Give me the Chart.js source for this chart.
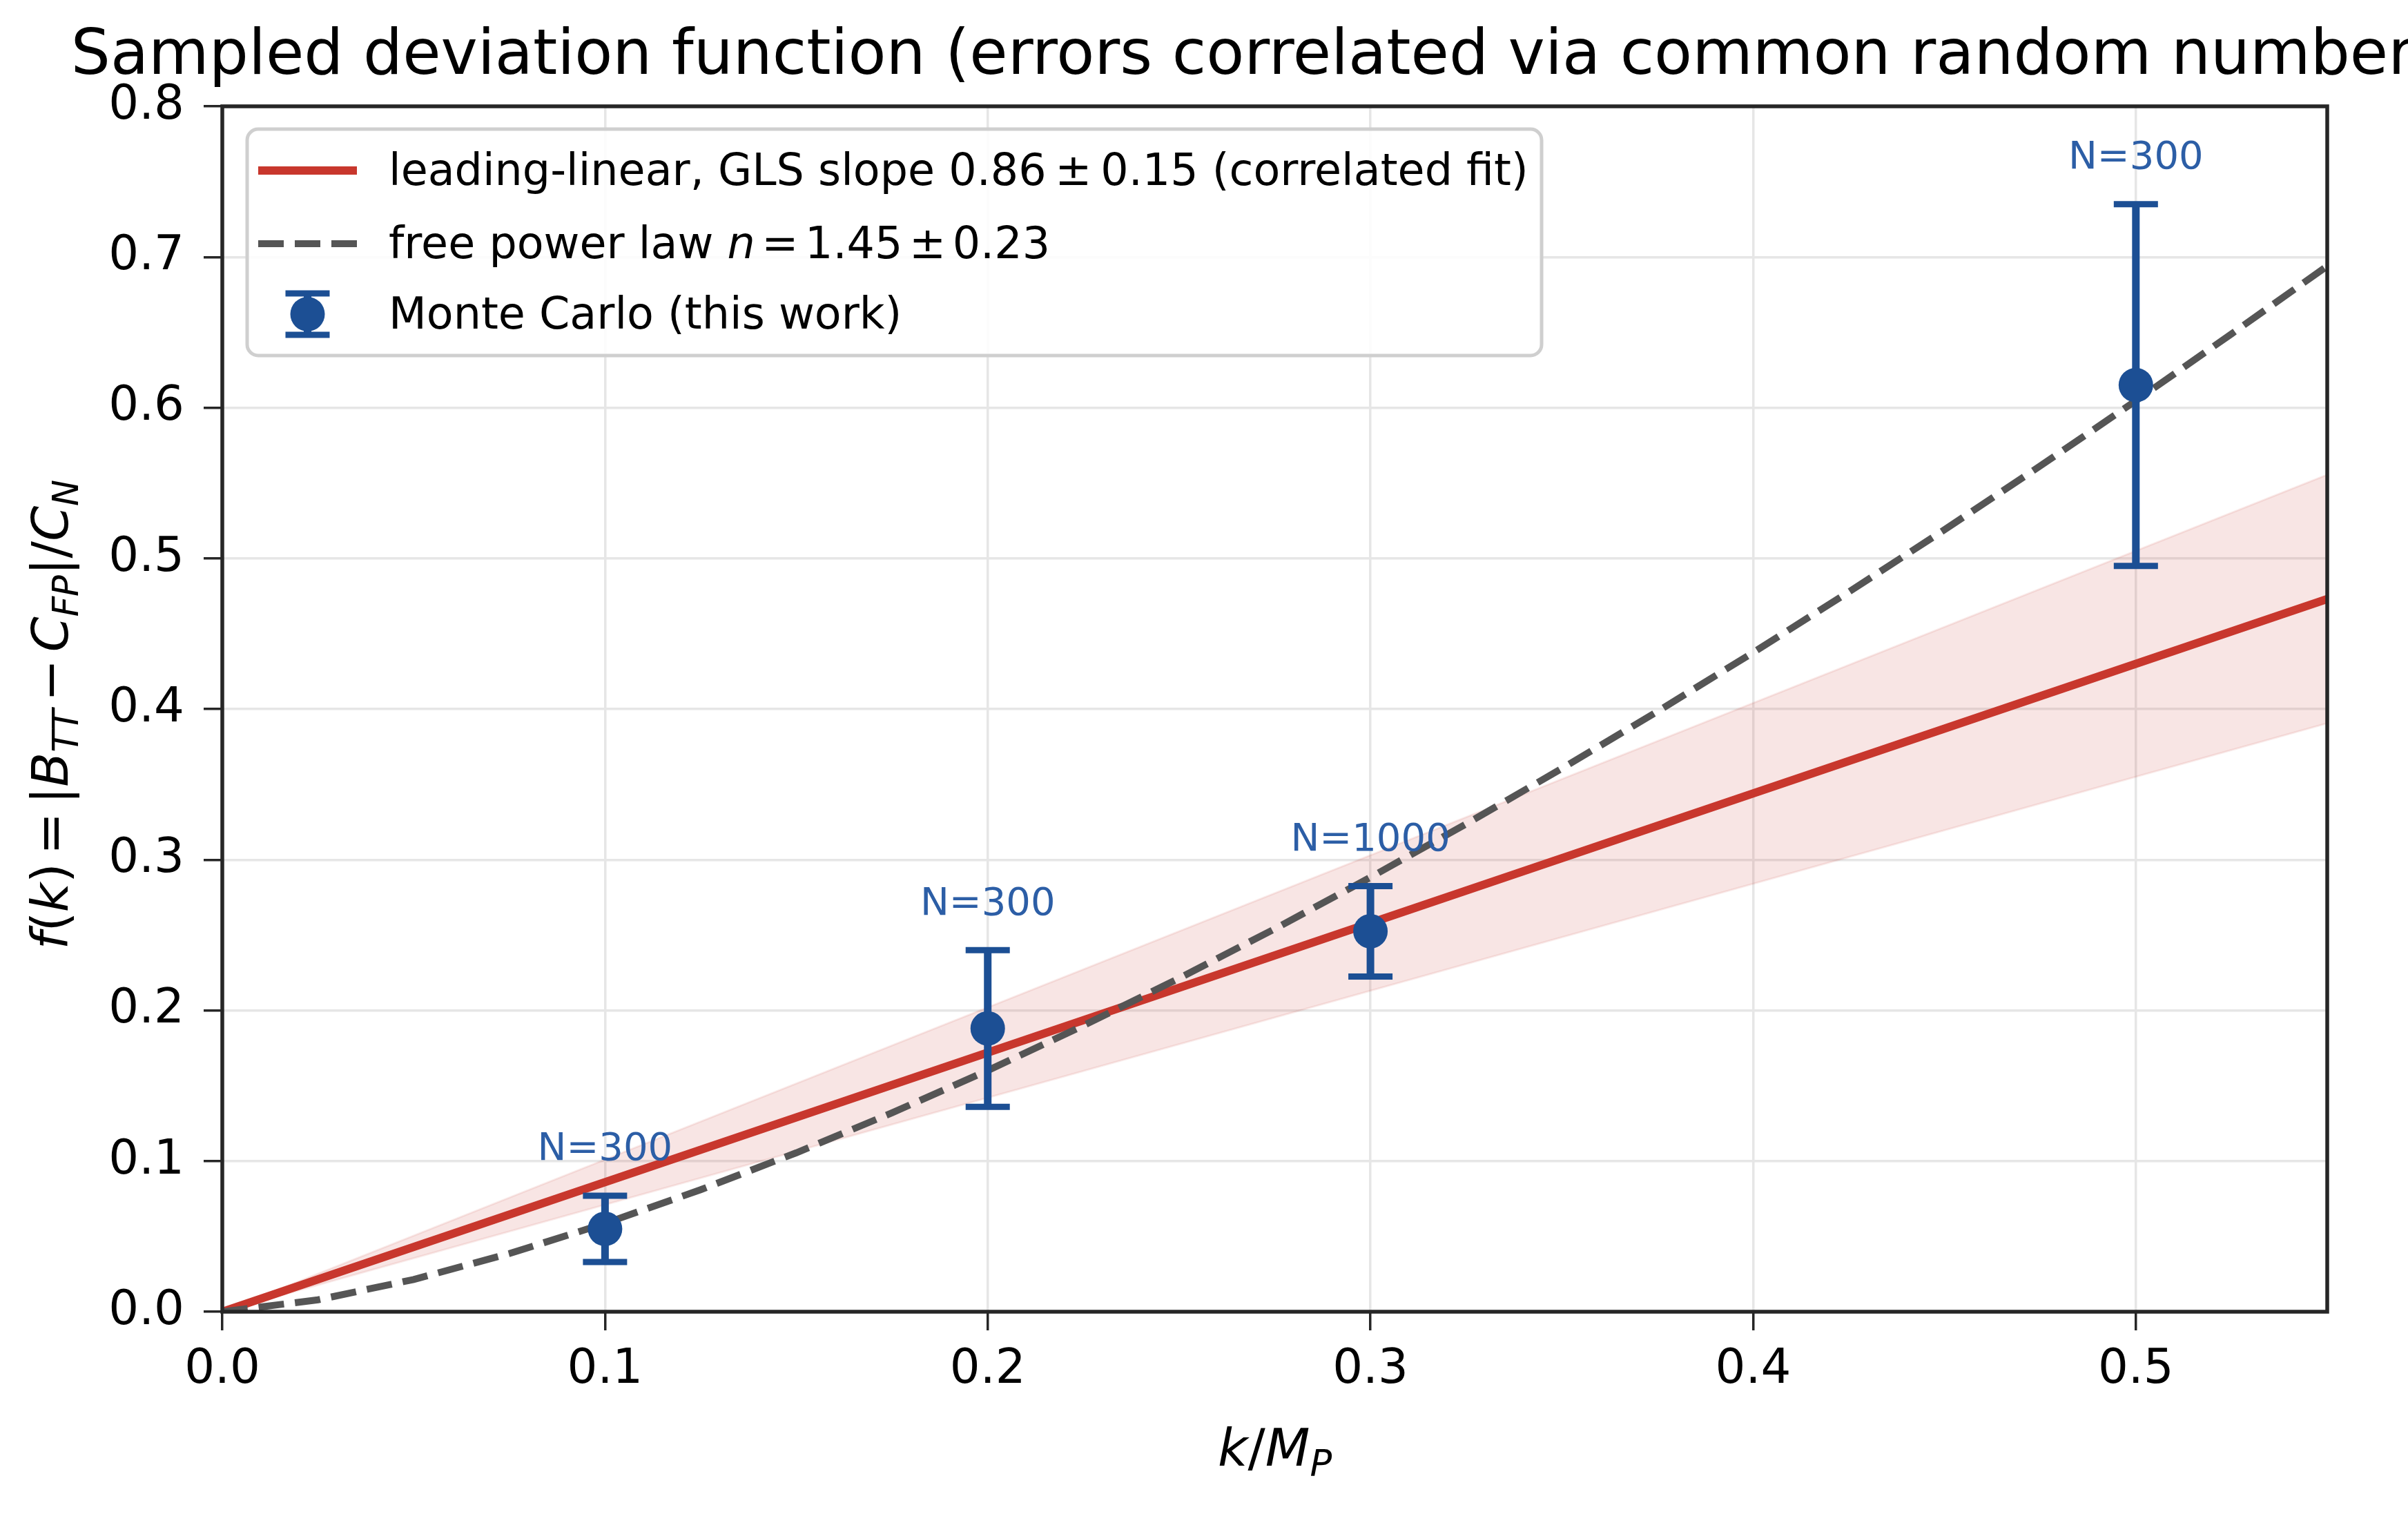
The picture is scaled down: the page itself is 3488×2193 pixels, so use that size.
<!DOCTYPE html>
<html><head><meta charset="utf-8">
<script src="https://cdn.jsdelivr.net/npm/chart.js@4/dist/chart.umd.min.js"></script>
<style>html,body{margin:0;padding:0;background:#fff}canvas{display:block}</style>
</head><body>
<div style="width:3488px;height:2193px"><canvas id="c" width="3488" height="2193"></canvas></div>
<script>
// ---------------- data ----------------
const titleText = 'Sampled deviation function (errors correlated via common random numbers)';
const xTicks = [0.0, 0.1, 0.2, 0.3, 0.4, 0.5];
const yTicks = [0.0, 0.1, 0.2, 0.3, 0.4, 0.5, 0.6, 0.7, 0.8];
const xRange = [0.0, 0.55];
const yRange = [0.0, 0.8];

// Monte Carlo points
const mcK = [0.1, 0.2, 0.3, 0.5];
const mcF = [0.055, 0.188, 0.2525, 0.615];
const mcErr = [0.022, 0.052, 0.030, 0.120];
const mcLabels = ['N=300', 'N=300', 'N=1000', 'N=300'];

// leading-linear GLS fit and its band
const linK = [0.0, 0.55];
const linF = [0.0, 0.473];
const bandUpperF = [0.0, 0.5555];
const bandLowerF = [0.0, 0.3905];

// free power law curve
const powK = [0.0, 0.025, 0.05, 0.075, 0.1, 0.125, 0.15, 0.175, 0.2, 0.225, 0.25, 0.275, 0.3,
              0.325, 0.35, 0.375, 0.4, 0.425, 0.45, 0.475, 0.5, 0.525, 0.55];
const powF = [0.0, 0.0079, 0.0214, 0.0386, 0.0586, 0.0810, 0.1055, 0.1320, 0.1601, 0.1899, 0.2213, 0.2541, 0.2883,
              0.3237, 0.3605, 0.3984, 0.4375, 0.4777, 0.5190, 0.5613, 0.6046, 0.6490, 0.6940];

const legendLabels = [
  [{t: 'leading-linear, GLS slope 0.86'}, {sp: 0.2}, {t: '±'}, {sp: 0.2}, {t: '0.15 (correlated fit)'}],
  [{t: 'free power law '}, {t: 'n', it: true}, {sp: 0.15}, {t: '='}, {sp: 0.15}, {t: '1.45'}, {sp: 0.15}, {t: '±'}, {sp: 0.15}, {t: '0.23'}],
  [{t: 'Monte Carlo (this work)'}]
];
const xLabelSegs = [{t: 'k', it: true}, {t: '/'}, {t: 'M', it: true}, {t: 'P', it: true, sub: true}];
const yLabelSegs = [{t: 'f', it: true}, {t: '('}, {t: 'k', it: true}, {t: ')'}, {sp: 0.17}, {t: '='}, {sp: 0.17}, {t: '|'}, {t: 'B', it: true},
  {t: 'TT', it: true, sub: true}, {sp: 0.15}, {t: '−'}, {sp: 0.15}, {t: 'C', it: true}, {t: 'FP', it: true, sub: true},
  {t: '|/'}, {t: 'C', it: true}, {t: 'N', it: true, sub: true}];

// ---------------- styles ----------------
const FONT = '"DejaVu Sans", "Liberation Sans", sans-serif';
const BLUE = '#1c4f94';
const BLUE_TXT = '#2c5ea6';
const RED = '#c8372d';
const BAND = 'rgba(200,55,45,0.13)';
const GRAY = '#555555';

const pts = (xs, ys) => xs.map((v, i) => ({x: v, y: ys[i]}));

function segFont(s, size) {
  const sz = s.sub ? size * 0.7 : size;
  return (s.it ? 'italic ' : '') + sz + 'px ' + FONT;
}
function segW(ctx, s, size) {
  if (s.sp !== undefined) return s.sp * size;
  ctx.font = segFont(s, size);
  return ctx.measureText(s.t).width;
}
function drawRich(ctx, segs, x, y, size, align) {
  let w = 0;
  for (const s of segs) w += segW(ctx, s, size);
  let cx = align === 'center' ? x - w / 2 : x;
  ctx.textBaseline = 'alphabetic';
  ctx.textAlign = 'left';
  for (const s of segs) {
    const sw = segW(ctx, s, size);
    if (s.t !== undefined) {
      ctx.font = segFont(s, size);
      ctx.fillText(s.t, cx, y + (s.sub ? size * 0.2 : 0));
    }
    cx += sw;
  }
}

const decorations = {
  id: 'decorations',
  beforeDatasetDraw(chart, args) {
    if (args.index !== 0) return;
    const {ctx, scales: {x, y}} = chart;
    ctx.save();
    ctx.strokeStyle = BLUE;
    ctx.lineCap = 'butt';
    for (let i = 0; i < mcK.length; i++) {
      const px = x.getPixelForValue(mcK[i]);
      const pt = y.getPixelForValue(mcF[i] + mcErr[i]);
      const pb = y.getPixelForValue(mcF[i] - mcErr[i]);
      ctx.lineWidth = 11;
      ctx.beginPath(); ctx.moveTo(px, pt); ctx.lineTo(px, pb); ctx.stroke();
      ctx.lineWidth = 9;
      ctx.beginPath();
      ctx.moveTo(px - 32, pt); ctx.lineTo(px + 32, pt);
      ctx.moveTo(px - 32, pb); ctx.lineTo(px + 32, pb);
      ctx.stroke();
    }
    ctx.restore();
  },
  afterDatasetsDraw(chart) {
    const {ctx, scales: {x, y}, chartArea: a} = chart;
    ctx.save();
    // N labels
    ctx.fillStyle = BLUE_TXT;
    ctx.font = '56px ' + FONT;
    ctx.textAlign = 'center';
    ctx.textBaseline = 'middle';
    for (let i = 0; i < mcK.length; i++) {
      const px = x.getPixelForValue(mcK[i]);
      const pt = y.getPixelForValue(mcF[i] + mcErr[i]);
      ctx.fillText(mcLabels[i], px, pt - 66);
    }
    // frame
    ctx.strokeStyle = '#262626';
    ctx.lineWidth = 5.5;
    ctx.strokeRect(a.left, a.top, a.right - a.left, a.bottom - a.top);
    ctx.restore();
  },
  afterDraw(chart) {
    const {ctx, chartArea: a} = chart;
    ctx.save();
    // legend
    const lx = a.left + 36, ly = a.top + 33, lw = 1875, lh = 328;
    ctx.beginPath();
    ctx.roundRect(lx, ly, lw, lh, 16);
    ctx.fillStyle = 'rgba(255,255,255,0.85)';
    ctx.fill();
    ctx.strokeStyle = '#cfcfcf';
    ctx.lineWidth = 5;
    ctx.stroke();
    const rowY = [ly + 60, ly + 166, ly + 268];
    const hx0 = lx + 16, hx1 = lx + 159, hxc = (hx0 + hx1) / 2;
    // red line handle
    ctx.strokeStyle = RED; ctx.lineWidth = 12; ctx.setLineDash([]);
    ctx.beginPath(); ctx.moveTo(hx0, rowY[0]); ctx.lineTo(hx1, rowY[0]); ctx.stroke();
    // dashed handle
    ctx.strokeStyle = GRAY; ctx.lineWidth = 10; ctx.setLineDash([37, 16]);
    ctx.beginPath(); ctx.moveTo(hx0, rowY[1]); ctx.lineTo(hx1, rowY[1]); ctx.stroke();
    ctx.setLineDash([]);
    // errorbar handle
    ctx.strokeStyle = BLUE; ctx.fillStyle = BLUE;
    ctx.lineWidth = 11;
    ctx.beginPath(); ctx.moveTo(hxc, rowY[2] - 30); ctx.lineTo(hxc, rowY[2] + 30); ctx.stroke();
    ctx.lineWidth = 9;
    ctx.beginPath();
    ctx.moveTo(hxc - 32, rowY[2] - 30); ctx.lineTo(hxc + 32, rowY[2] - 30);
    ctx.moveTo(hxc - 32, rowY[2] + 30); ctx.lineTo(hxc + 32, rowY[2] + 30);
    ctx.stroke();
    ctx.beginPath(); ctx.arc(hxc, rowY[2], 25, 0, Math.PI * 2); ctx.fill();
    // legend texts
    ctx.fillStyle = '#000';
    for (let r = 0; r < 3; r++) drawRich(ctx, legendLabels[r], lx + 205, rowY[r] + 21, 63.5, 'left');
    // axis labels
    const cx = (a.left + a.right) / 2, cy = (a.top + a.bottom) / 2;
    drawRich(ctx, xLabelSegs, cx, a.bottom + 223, 75, 'center');
    ctx.save();
    ctx.translate(98, cy + 8);
    ctx.rotate(-Math.PI / 2);
    drawRich(ctx, yLabelSegs, 0, 0, 73, 'center');
    ctx.restore();
    // title
    ctx.font = '90px ' + FONT;
    ctx.textAlign = 'center';
    ctx.textBaseline = 'alphabetic';
    ctx.fillText(titleText, cx - 6, 107);
    ctx.restore();
  }
};

const tickFont = {family: FONT, size: 69};

new Chart(document.getElementById('c'), {
  type: 'scatter',
  data: {
    datasets: [
      {
        label: 'Monte Carlo (this work)', type: 'scatter', data: pts(mcK, mcF),
        pointRadius: 25, pointBackgroundColor: BLUE, pointBorderWidth: 0, order: 0
      },
      {
        label: 'free power law', type: 'line', data: pts(powK, powF),
        borderColor: GRAY, borderWidth: 10, borderDash: [37, 16], pointRadius: 0,
        tension: 0, fill: false, order: 1
      },
      {
        label: 'leading-linear', type: 'line', data: pts(linK, linF),
        borderColor: RED, borderWidth: 12, pointRadius: 0, fill: false, order: 2
      },
      {
        label: 'band upper', type: 'line', data: pts(linK, bandUpperF),
        borderColor: 'rgba(200,55,45,0.10)', borderWidth: 3, pointRadius: 0,
        backgroundColor: BAND, fill: '+1', order: 3
      },
      {
        label: 'band lower', type: 'line', data: pts(linK, bandLowerF),
        borderColor: 'rgba(200,55,45,0.10)', borderWidth: 3, pointRadius: 0, fill: false, order: 4
      }
    ]
  },
  options: {
    responsive: false,
    animation: false,
    devicePixelRatio: 1,
    events: [],
    layout: {padding: {top: 154, right: 117, bottom: 0, left: 0}},
    plugins: {legend: {display: false}, tooltip: {enabled: false}, title: {display: false}},
    scales: {
      x: {
        type: 'linear', min: xRange[0], max: xRange[1],
        afterBuildTicks: s => { s.ticks = xTicks.map(v => ({value: v})); },
        afterFit: s => { s.height = 293; },
        ticks: {font: tickFont, color: '#000', padding: 17, maxRotation: 0, autoSkip: false,
                callback: v => Number(v).toFixed(1)},
        grid: {color: '#e6e6e6', lineWidth: 3.5, tickColor: '#262626', tickWidth: 3.5, tickLength: 27},
        border: {display: false}
      },
      y: {
        type: 'linear', min: yRange[0], max: yRange[1],
        afterBuildTicks: s => { s.ticks = yTicks.map(v => ({value: v})); },
        afterFit: s => { s.width = 322; },
        ticks: {font: tickFont, color: '#000', padding: 28, autoSkip: false,
                callback: v => Number(v).toFixed(1)},
        grid: {color: '#e6e6e6', lineWidth: 3.5, tickColor: '#262626', tickWidth: 3.5, tickLength: 27},
        border: {display: false}
      }
    }
  },
  plugins: [decorations]
});
</script>
</body></html>
